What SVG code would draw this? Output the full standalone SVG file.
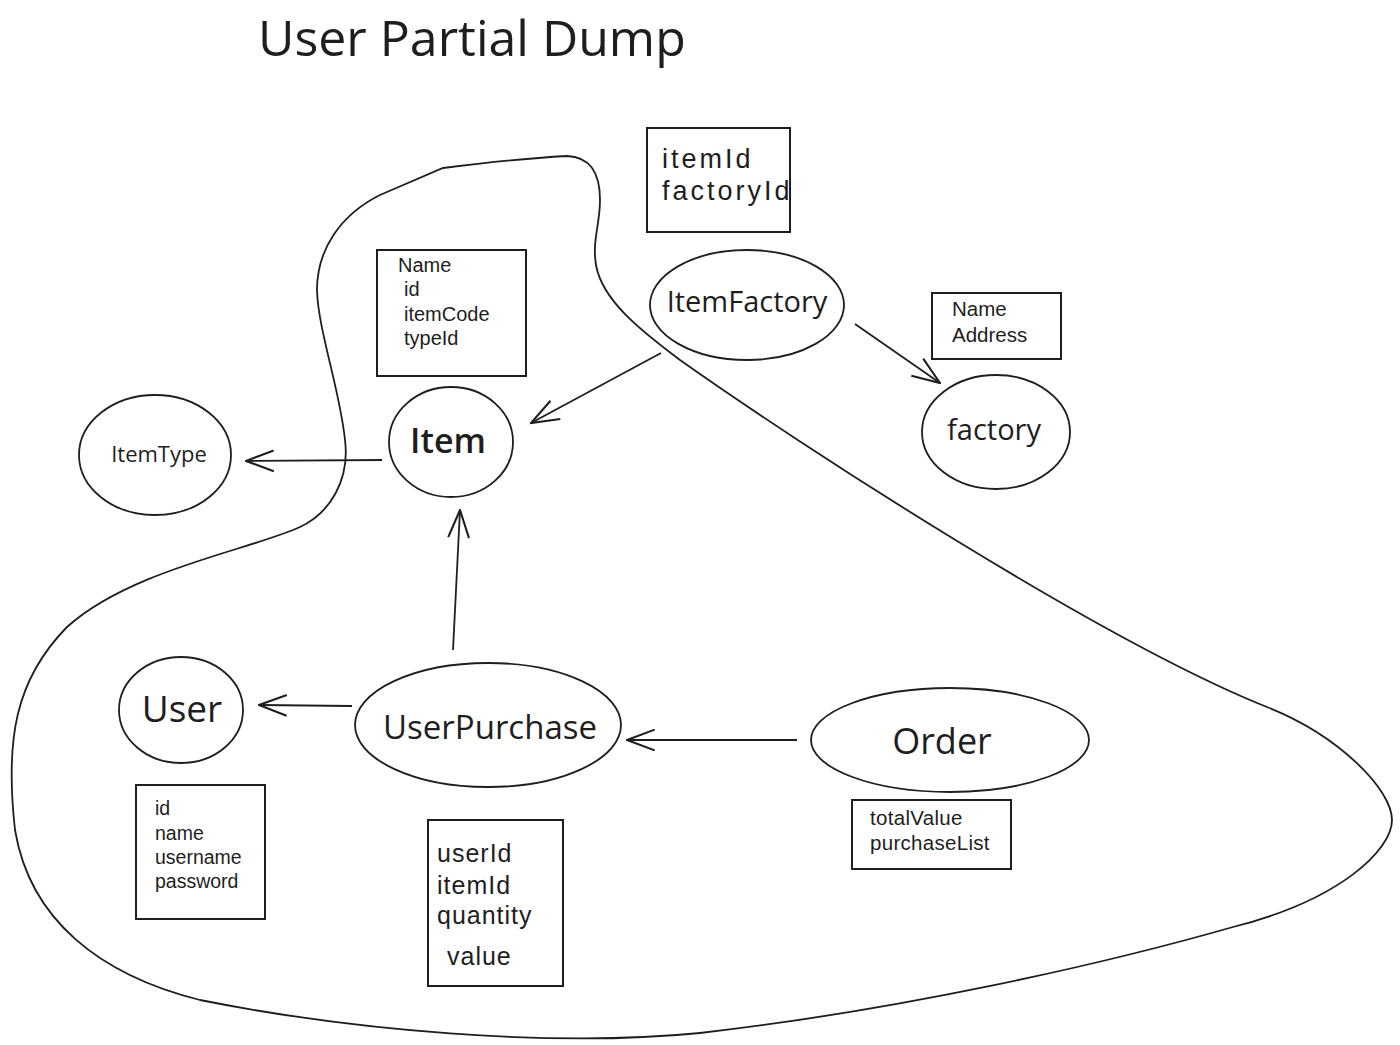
<svg xmlns="http://www.w3.org/2000/svg" width="1400" height="1045" viewBox="0 0 1400 1045">
<defs>
<style>
.sh{fill:none;stroke:#1e1e1e;stroke-width:1.8}
.bx{fill:none;stroke:#1e1e1e;stroke-width:2}
.cn{fill:none;stroke:#1e1e1e;stroke-width:1.8}
text{font-family:"Open Sans","Liberation Sans",sans-serif;fill:#1e1e1e}
text.a{font-family:"Liberation Sans","Open Sans",sans-serif}
.c{text-anchor:middle;dominant-baseline:central}
</style>
<marker id="arr" markerUnits="userSpaceOnUse" markerWidth="30" markerHeight="30" viewBox="0 0 26 20" refX="25" refY="10" orient="auto">
<path d="M1,1 L25,10 L1,19" fill="none" stroke="#1e1e1e" stroke-width="1.8"/>
</marker>
</defs>
<rect width="1400" height="1045" fill="#ffffff"/>
<text x="258" y="56" font-size="50">User Partial Dump</text>
<g id="boundary">
<path class="sh" d="M443 168 C 490 162, 530 158, 567 156 C 590 157, 600 172, 600 200 C 600 225, 592 240, 596 265 C 602 300, 640 330, 680 360 C 800 445, 1100 640, 1267 707 C 1340 736, 1392 790, 1392 820 C 1392 850, 1340 900, 1233 927 C 1100 965, 900 1010, 700 1033 C 550 1048, 350 1030, 200 1000 C 100 975, 30 920, 15 830 C 5 740, 15 680, 67 627 C 130 570, 250 550, 300 527 C 330 513, 350 480, 345 440 C 340 390, 318 330, 317 290 C 317 250, 340 215, 380 195 Z"/>
</g>
<g id="connectors">
<line class="cn" x1="382" y1="460" x2="246" y2="461" marker-end="url(#arr)"/>
<line class="cn" x1="661" y1="353" x2="531" y2="423" marker-end="url(#arr)"/>
<line class="cn" x1="855" y1="324" x2="940" y2="383" marker-end="url(#arr)"/>
<line class="cn" x1="453" y1="650" x2="460" y2="510" marker-end="url(#arr)"/>
<line class="cn" x1="352" y1="706" x2="259" y2="705" marker-end="url(#arr)"/>
<line class="cn" x1="797" y1="740" x2="627" y2="740" marker-end="url(#arr)"/>
</g>
<g id="ItemType">
<ellipse class="sh" cx="155" cy="455" rx="76" ry="60"/>
<text class="c" x="159" y="453" font-size="22">ItemType</text>
</g>
<g id="Item">
<ellipse class="sh" cx="451" cy="442" rx="62" ry="55"/>
<text class="c" x="448" y="440" font-size="34" font-weight="600">Item</text>
</g>
<g id="ItemFactory">
<ellipse class="sh" cx="747" cy="305" rx="97" ry="55"/>
<text class="c" x="747" y="300" font-size="29">ItemFactory</text>
</g>
<g id="factory">
<ellipse class="sh" cx="996" cy="432" rx="74" ry="57"/>
<text class="c" x="994" y="428" font-size="29">factory</text>
</g>
<g id="User">
<ellipse class="sh" cx="181" cy="710" rx="62" ry="53"/>
<text class="c" x="182" y="707" font-size="37">User</text>
</g>
<g id="UserPurchase">
<ellipse class="sh" cx="488" cy="725" rx="133" ry="62"/>
<text class="c" x="490" y="726" font-size="33">UserPurchase</text>
</g>
<g id="Order">
<ellipse class="sh" cx="950" cy="740" rx="139" ry="52"/>
<text class="c" x="942" y="740" font-size="36">Order</text>
</g>
<g id="ItemAttributes">
<rect class="bx" x="377" y="250" width="149" height="126"/>
<text class="a" x="398" y="272" font-size="20">Name</text>
<text class="a" x="404" y="296" font-size="20">id</text>
<text class="a" x="404" y="321" font-size="20">itemCode</text>
<text class="a" x="404" y="345" font-size="20">typeId</text>
</g>
<g id="ItemFactoryAttributes">
<rect class="bx" x="647" y="128" width="143" height="104"/>
<text class="a" x="662" y="168" font-size="27" letter-spacing="3">itemId</text>
<text class="a" x="662" y="200" font-size="27" letter-spacing="3">factoryId</text>
</g>
<g id="FactoryAttributes">
<rect class="bx" x="932" y="293" width="129" height="66"/>
<text class="a" x="952" y="316" font-size="20.5">Name</text>
<text class="a" x="952" y="342" font-size="20.5">Address</text>
</g>
<g id="UserAttributes">
<rect class="bx" x="136" y="785" width="129" height="134"/>
<text class="a" x="155" y="815" font-size="19.5">id</text>
<text class="a" x="155" y="840" font-size="19.5">name</text>
<text class="a" x="155" y="864" font-size="19.5">username</text>
<text class="a" x="155" y="888" font-size="19.5">password</text>
</g>
<g id="UserPurchaseAttributes">
<rect class="bx" x="428" y="820" width="135" height="166"/>
<text class="a" x="437" y="862" font-size="25" letter-spacing="1">userId</text>
<text class="a" x="437" y="894" font-size="25" letter-spacing="1">itemId</text>
<text class="a" x="437" y="924" font-size="25" letter-spacing="1">quantity</text>
<text class="a" x="447" y="965" font-size="25" letter-spacing="1">value</text>
</g>
<g id="OrderAttributes">
<rect class="bx" x="852" y="800" width="159" height="69"/>
<text class="a" x="870" y="825" font-size="20.5" letter-spacing="0.3">totalValue</text>
<text class="a" x="870" y="850" font-size="20.5" letter-spacing="0.3">purchaseList</text>
</g>
</svg>
